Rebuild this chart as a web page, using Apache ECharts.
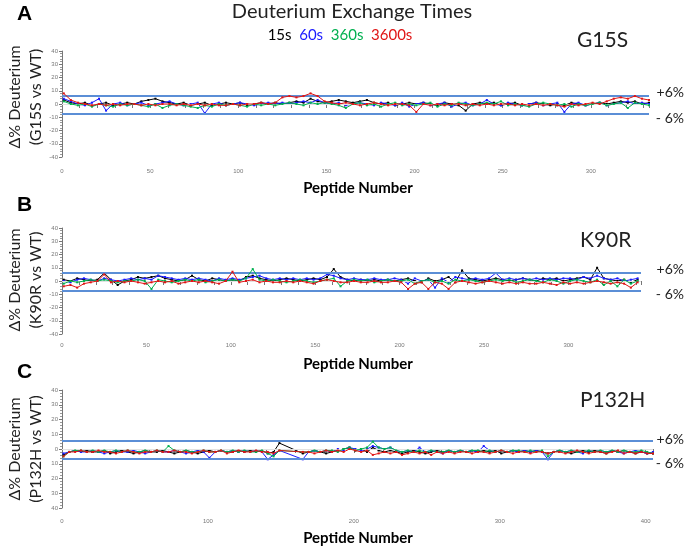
<!DOCTYPE html>
<html>
<head>
<meta charset="utf-8">
<title>Deuterium Exchange Times</title>
<script src="https://cdn.jsdelivr.net/npm/echarts@6/dist/echarts.min.js"></script>
<style>
html, body { margin: 0; padding: 0; background: #fff; }
#chart { width: 688px; height: 547px; }
</style>
</head>
<body>
<div id="chart"></div>
<script>
// exchange times and their colours
const timeLabels = ['15s', '60s', '360s', '3600s'];
const timeColors = ['#000000', '#1a1aff', '#00b050', '#e01515'];
const mutants = ['G15S', 'K90R', 'P132H'];
const peptideStep = 4; // values read every 4th peptide, starting at peptide 1
const xMax = [333, 343, 405];
const xLabelStep = [50, 50, 100];
const refLines = [[6.6, -7.3], [6.2, -7.0], [5.6, -6.8]]; // the "+6%" / "- 6%" bands

// A: G15S vs WT
const g15s_15s = [3,1,0,1,-1,0,1,-1,0,1, 0,2,3,4,2,1,0,1,-1,0, 1,-1,0,1,0,1,-1,0,1,0,
  1,0,1,2,1,4,2,1,2,3, 2,1,2,3,1,0,1,-1,0,1, 0,1,0,-1,1,0,-1,-5,0,1,
  0,1,-1,0,1,-1,0,1,0,-1, 0,-1,1,0,-1,0,1,0,1,2, 1,2,0,1];
const g15s_60s = [4,2,0,-1,1,4,-5,0,1,-1, 0,1,-1,0,1,2,0,-1,0,1, -7,0,1,-1,0,1,0,-1,0,1,
  0,1,0,1,2,1,3,1,0,1, -1,0,1,0,-1,1,0,-1,1,-2, 0,1,-1,0,1,-2,0,1,-1,0,
  3,0,-1,1,0,-1,0,1,-1,0, 1,-6,0,1,-1,0,1,-1,0,1, 2,0,1,0];
const g15s_360s = [2,0,-1,0,-2,0,-1,-2,0,-1, 0,-1,-2,0,-3,-1,0,-1,-2,-3, -1,-2,0,-1,0,-1,-2,0,-1,0,
  -1,0,1,0,-1,1,0,1,0,-1, -3,0,1,-1,0,-2,0,1,-1,0, -1,0,1,-2,0,-1,1,0,-1,0,
  1,0,2,-1,0,-1,-2,0,1,0, -1,0,-2,0,-1,0,1,-1,0,1, -3,1,0,-1];
const g15s_3600s = [8,3,1,0,-1,0,-1,0,-1,0, 0,-1,0,-1,0,0,-1,0,-1,0, -1,0,-1,-1,0,-1,0,0,1,0,
  1,5,6,5,6,8,6,2,1,0, 1,0,-1,0,1,0,-1,0,0,-1, -6,0,-1,0,-1,0,0,-1,0,-1,
  0,-1,0,0,-1,0,-1,0,-1,0, -1,-2,0,-1,0,1,0,2,4,5, 4,6,4,3];

// B: K90R vs WT
const k90r_15s = [1,0,2,1,0,1,6,1,-3,0, 1,3,2,3,4,2,1,0,1,4, 1,0,2,1,0,1,0,3,4,2,
  1,0,1,2,1,0,1,2,1,3, 9,3,1,0,1,0,1,0,1,0, 1,2,0,-1,2,0,1,3,-1,8,
  2,1,0,1,2,1,0,1,2,1, 0,2,1,2,0,1,2,3,1,10, 2,1,0,1,-1,1];
const k90r_60s = [0,-1,1,2,1,0,2,1,0,1, 2,1,2,1,4,3,2,1,2,1, 2,1,0,2,1,2,1,2,3,4,
  2,1,2,1,2,1,2,1,2,5, 4,2,1,2,1,1,2,1,1,2, 1,-2,2,0,1,-5,2,-1,3,2,
  1,2,1,2,6,1,2,1,2,1, 2,1,2,1,2,2,1,3,2,4, 2,1,2,0,1,2];
const k90r_360s = [-2,0,-1,0,1,0,1,0,-1,0, 0,1,0,-6,1,0,-1,0,1,0, 1,-1,0,1,0,1,0,2,9,1,
  0,1,0,-1,0,1,0,-1,0,1, 2,-4,0,1,0,1,-1,0,1,0, 0,1,-2,0,1,-1,0,-2,1,0,
  1,0,-1,0,1,0,1,-1,0,1, 0,-1,1,0,-2,0,1,0,-1,1, -3,0,-4,1,-2,0];
const k90r_3600s = [-4,-3,-5,-2,-1,0,5,-1,0,-1, 0,-1,-2,-1,0,-1,0,-2,-1,0, -1,0,-1,-2,0,7,-1,0,1,-1,
  0,-1,-1,0,-1,0,-1,-2,0,1, 0,-1,-1,0,-1,-1,0,-1,-1,0, -1,-6,-2,-1,-6,-1,-2,-6,-1,0,
  -1,-2,-1,0,-1,-2,-1,-2,-1,-2, -2,-1,-2,-3,-1,-2,-1,-2,-1,0, -1,-2,-1,-2,-5,-1];

// C: P132H vs WT (no peptides between ~150 and ~165)
const p132h_15s = [-4,-2,-1,-2,-1,-2,-2,-1,-3,-2, -1,-2,-3,-2,-1,-2,-2,-1,-2,-3, -2,-1,-2,-3,-2,-1,-2,-1,-2,-2,
  -1,-2,-1,-2,-1,-3,-2,4,null,null, null,-3,-2,-1,-2,-3,-2,-1,0,1, -1,0,-2,1,-1,-2,-1,-2,-3,-2,
  -1,-2,-3,-2,-1,-2,-1,-2,-1,-2, -1,-2,-1,-2,-1,-3,-2,-1,-2,-1, -2,-1,-2,-3,-2,-1,-2,-3,-2,-1,
  -2,-1,-2,-3,-1,-2,-1,-2,-3,-2, -3,-3];
const p132h_60s = [-3,-2,-1,-2,-2,-1,-2,-3,-2,-1, -2,-2,-1,-2,-3,-2,-1,-2,-2,-1, -2,-3,-2,-1,-2,-6,-2,-1,-2,-1,
  -2,-1,-2,-1,-2,-7,-4,-1,null,null, null,-7,-2,-1,-2,-1,-2,0,-1,1, 0,-1,0,2,1,0,1,-1,-2,-1,
  -2,1,-2,-1,-2,-3,-1,-2,-1,-2, -1,-2,2,-1,-2,-1,-2,-1,-2,-1, -2,-1,-2,-7,-2,-1,-2,-1,-2,-3,
  -1,-2,-1,-2,-1,-2,-3,-2,-1,-2, -3,-2];
const p132h_360s = [-5,-2,-1,-1,-2,-1,-2,-1,-2,-1, -2,-1,-2,-2,-1,-2,-1,-2,2,-1, -2,-1,-2,-2,-1,-2,-2,-1,-2,-1,
  -2,-1,-2,-2,-1,-3,-5,-1,null,null, null,-2,-2,-1,-2,-1,-1,-2,0,1, -1,0,1,5,1,0,1,-1,-2,-1,
  -2,-1,-2,-1,-2,-2,-1,-2,-1,-2, -1,-1,-2,-1,-2,-1,-2,-1,-1,-2, -1,-2,-1,-5,-2,-1,-2,-1,-2,-2,
  -1,-2,-1,-2,-1,-2,-1,-2,-2,-1, -2,-3];
const p132h_3600s = [-5,-2,-2,-1,-2,-2,-1,-2,-2,-3, -2,-1,-2,-3,-2,-2,-1,-2,-2,-1, -2,-2,-3,-2,-1,-2,-2,-1,-3,-2,
  -1,-2,-2,-1,-2,-2,-3,-1,null,null, null,-2,-2,-3,-2,-1,-2,-1,-2,0, -1,-2,-1,-4,-3,-2,-3,-2,-4,-3,
  -2,-3,-2,-4,-2,-3,-2,-3,-2,-2, -3,-2,-2,-3,-2,-1,-2,-3,-2,-2, -3,-2,-2,-3,-2,-2,-3,-2,-1,-2,
  -3,-2,-2,-3,-2,-1,-3,-2,-3,-2, -3,-3];

const panelSeries = [
  [g15s_15s, g15s_60s, g15s_360s, g15s_3600s],
  [k90r_15s, k90r_60s, k90r_360s, k90r_3600s],
  [p132h_15s, p132h_60s, p132h_360s, p132h_3600s]
];

const chart = echarts.init(document.getElementById('chart'));

const grids = [
  { left: 62, top: 51, width: 587, height: 106 },
  { left: 62, top: 228, width: 579, height: 106 },
  { left: 62, top: 390, width: 591, height: 118 }
];
const xOffsets = [5, 2, 4];

const toPairs = vals => vals.map((v, i) => [1 + i * peptideStep, v]);

const xAxes = grids.map((g, k) => ({
  type: 'value',
  gridIndex: k,
  min: 0,
  max: xMax[k],
  interval: xLabelStep[k],
  offset: xOffsets[k],
  splitLine: { show: false },
  axisLine: { lineStyle: { color: '#777', width: 1 } },
  axisTick: { length: 4, lineStyle: { color: '#777' } },
  minorTick: { show: true, splitNumber: 5, length: 4, lineStyle: { color: '#777' } },
  axisLabel: {
    fontSize: 6, color: '#777', margin: 6,
    showMaxLabel: false
  }
}));

const yAxes = grids.map((g, k) => ({
  type: 'value',
  gridIndex: k,
  min: -40,
  max: 40,
  interval: 10,
  splitLine: { show: false },
  axisLine: { show: true, lineStyle: { color: '#777', width: 1 } },
  axisTick: { show: true, length: 3, lineStyle: { color: '#777' } },
  minorTick: { show: true, splitNumber: 5, length: 2, lineStyle: { color: '#999' } },
  axisLabel: {
    fontSize: 6, color: '#777', margin: 4,
    // panel C prints the magnitudes only
    formatter: v => (k === 2 ? String(Math.abs(v)) : String(v))
  }
}));

const series = [];
panelSeries.forEach((group, k) => {
  group.forEach((vals, s) => {
    const item = {
      name: timeLabels[s],
      type: 'line',
      xAxisIndex: k,
      yAxisIndex: k,
      data: toPairs(vals),
      connectNulls: true,
      symbol: 'rect',
      symbolSize: 2,
      showSymbol: true,
      animation: false,
      lineStyle: { color: timeColors[s], width: 1 },
      itemStyle: { color: timeColors[s] },
      z: 3 + s
    };
    if (s === 0) {
      item.markLine = {
        silent: true,
        symbol: 'none',
        label: { show: false },
        animation: false,
        data: [
          { yAxis: refLines[k][0], lineStyle: { color: '#5b8ed6', width: 2, type: 'solid' } },
          { yAxis: refLines[k][1], lineStyle: { color: '#5b8ed6', width: 2, type: 'solid' } },
          { yAxis: 0, lineStyle: { color: '#e2e2e2', width: 1, type: 'solid' } }
        ]
      };
    }
    series.push(item);
  });
});

const font = 'Lato, "Liberation Sans", sans-serif';
const yNames = [
  ['(G15S vs WT)', 97],
  ['(K90R vs WT)', 280],
  ['(P132H vs WT)', 449]
];
const xNameY = [188, 364, 538];
const mutantPos = [[577, 40], [580, 240], [580, 400]];
const pctY = [[92, 118], [269, 294], [439, 463]];
const panelLetters = [['A', 14], ['B', 205], ['C', 372]];

const graphic = [
  {
    type: 'text', x: 352, y: 12,
    style: { text: 'Deuterium Exchange Times', font: '20px ' + font, fill: '#222', align: 'center', verticalAlign: 'middle' }
  },
  {
    type: 'text', x: 340, y: 35,
    style: {
      text: '{k|15s}  {b|60s}  {g|360s}  {r|3600s}',
      align: 'center', verticalAlign: 'middle',
      font: '15px ' + font,
      rich: {
        k: { fill: timeColors[0], font: '15px ' + font },
        b: { fill: timeColors[1], font: '15px ' + font },
        g: { fill: timeColors[2], font: '15px ' + font },
        r: { fill: timeColors[3], font: '15px ' + font }
      }
    }
  }
];
for (let k = 0; k < 3; k++) {
  graphic.push(
    { type: 'text', x: 17, y: panelLetters[k][1],
      style: { text: panelLetters[k][0], font: 'bold 21px Arial, "Liberation Sans", sans-serif', fill: '#000', align: 'left', verticalAlign: 'middle' } },
    { type: 'text', x: 15, y: yNames[k][1], rotation: Math.PI / 2,
      style: { text: 'Δ% Deuterium', font: '16px ' + font, fill: '#222', align: 'center', verticalAlign: 'middle' } },
    { type: 'text', x: 36, y: yNames[k][1], rotation: Math.PI / 2,
      style: { text: yNames[k][0], font: '16px ' + font, fill: '#222', align: 'center', verticalAlign: 'middle' } },
    { type: 'text', x: 358, y: xNameY[k],
      style: { text: 'Peptide Number', font: 'bold 15px ' + font, fill: '#000', align: 'center', verticalAlign: 'middle' } },
    { type: 'text', x: mutantPos[k][0], y: mutantPos[k][1],
      style: { text: mutants[k], font: '21px ' + font, fill: '#222', align: 'left', verticalAlign: 'middle' } },
    { type: 'text', x: 684, y: pctY[k][0],
      style: { text: '+6%', font: '14px ' + font, fill: '#222', align: 'right', verticalAlign: 'middle' } },
    { type: 'text', x: 684, y: pctY[k][1],
      style: { text: '- 6%', font: '14px ' + font, fill: '#222', align: 'right', verticalAlign: 'middle' } }
  );
}

chart.setOption({
  backgroundColor: '#fff',
  animation: false,
  grid: grids,
  xAxis: xAxes,
  yAxis: yAxes,
  series: series,
  graphic: graphic
});
</script>
</body>
</html>
